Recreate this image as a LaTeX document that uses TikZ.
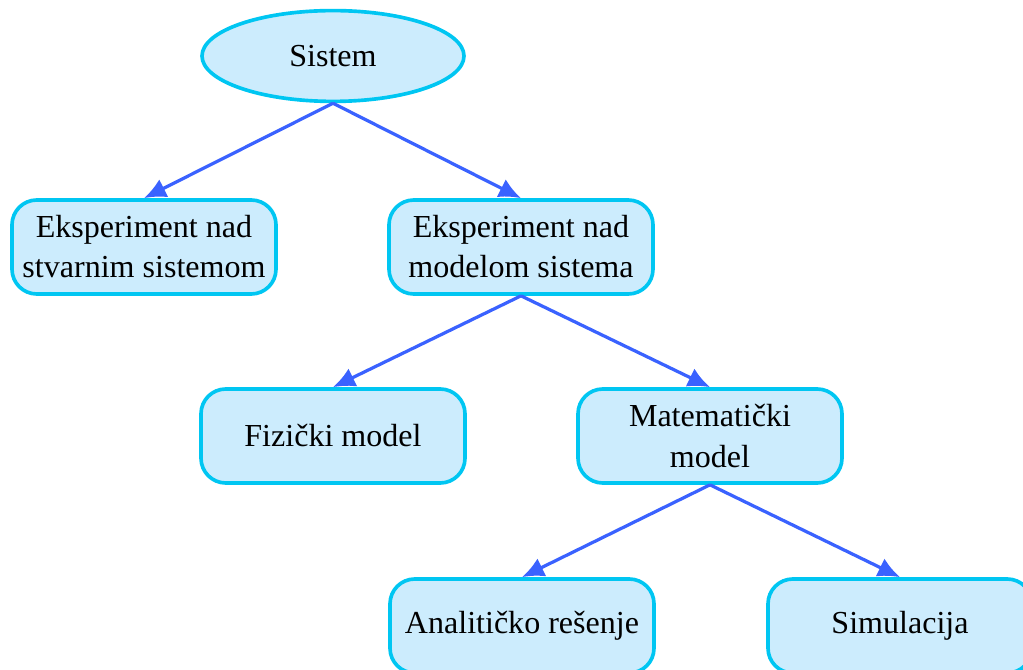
\documentclass[tikz,border=0pt]{standalone}
\usepackage{fontspec}
\setmainfont{Liberation Serif}
\usetikzlibrary{shapes.geometric,arrows.meta}

\definecolor{boxfill}{HTML}{CCECFD}
\definecolor{boxline}{HTML}{00C6F2}
\definecolor{arrowblue}{HTML}{3A62FF}

\tikzset{
	box/.style={draw=boxline,fill=boxfill,line width=2.6pt,rounded corners=0.62cm,
		minimum width=6.6cm,minimum height=2.35cm,align=center,
		font=\fontsize{22.8}{28.5}\selectfont},
	oval/.style={box,ellipse,rounded corners=0pt,minimum width=6.55cm,minimum height=2.27cm},
	link/.style={draw=arrowblue,line width=2.3pt,-{Latex[length=5.5mm,width=5mm]}}
}

\begin{document}
\begin{tikzpicture}
	\clip (0,0) rectangle (25.575,-16.75);
	\node[oval] (sys) at (8.325,-1.4) {Sistem};
	\node[box] (real) at (3.6,-6.175) {Eksperiment nad\\stvarnim sistemom};
	\node[box] (mdl) at (13.025,-6.175) {Eksperiment nad\\modelom sistema};
	\node[box] (phys) at (8.325,-10.9) {Fizički model};
	\node[box] (math) at (17.75,-10.9) {Matematički\\model};
	\node[box] (anl) at (13.05,-15.65) {Analitičko rešenje};
	\node[box] (sim) at (22.5,-15.65) {Simulacija};
	\draw[link] (sys.south) -- (real.north);
	\draw[link] (sys.south) -- (mdl.north);
	\draw[link] (mdl.south) -- (phys.north);
	\draw[link] (mdl.south) -- (math.north);
	\draw[link] (math.south) -- (anl.north);
	\draw[link] (math.south) -- (sim.north);
\end{tikzpicture}
\end{document}
